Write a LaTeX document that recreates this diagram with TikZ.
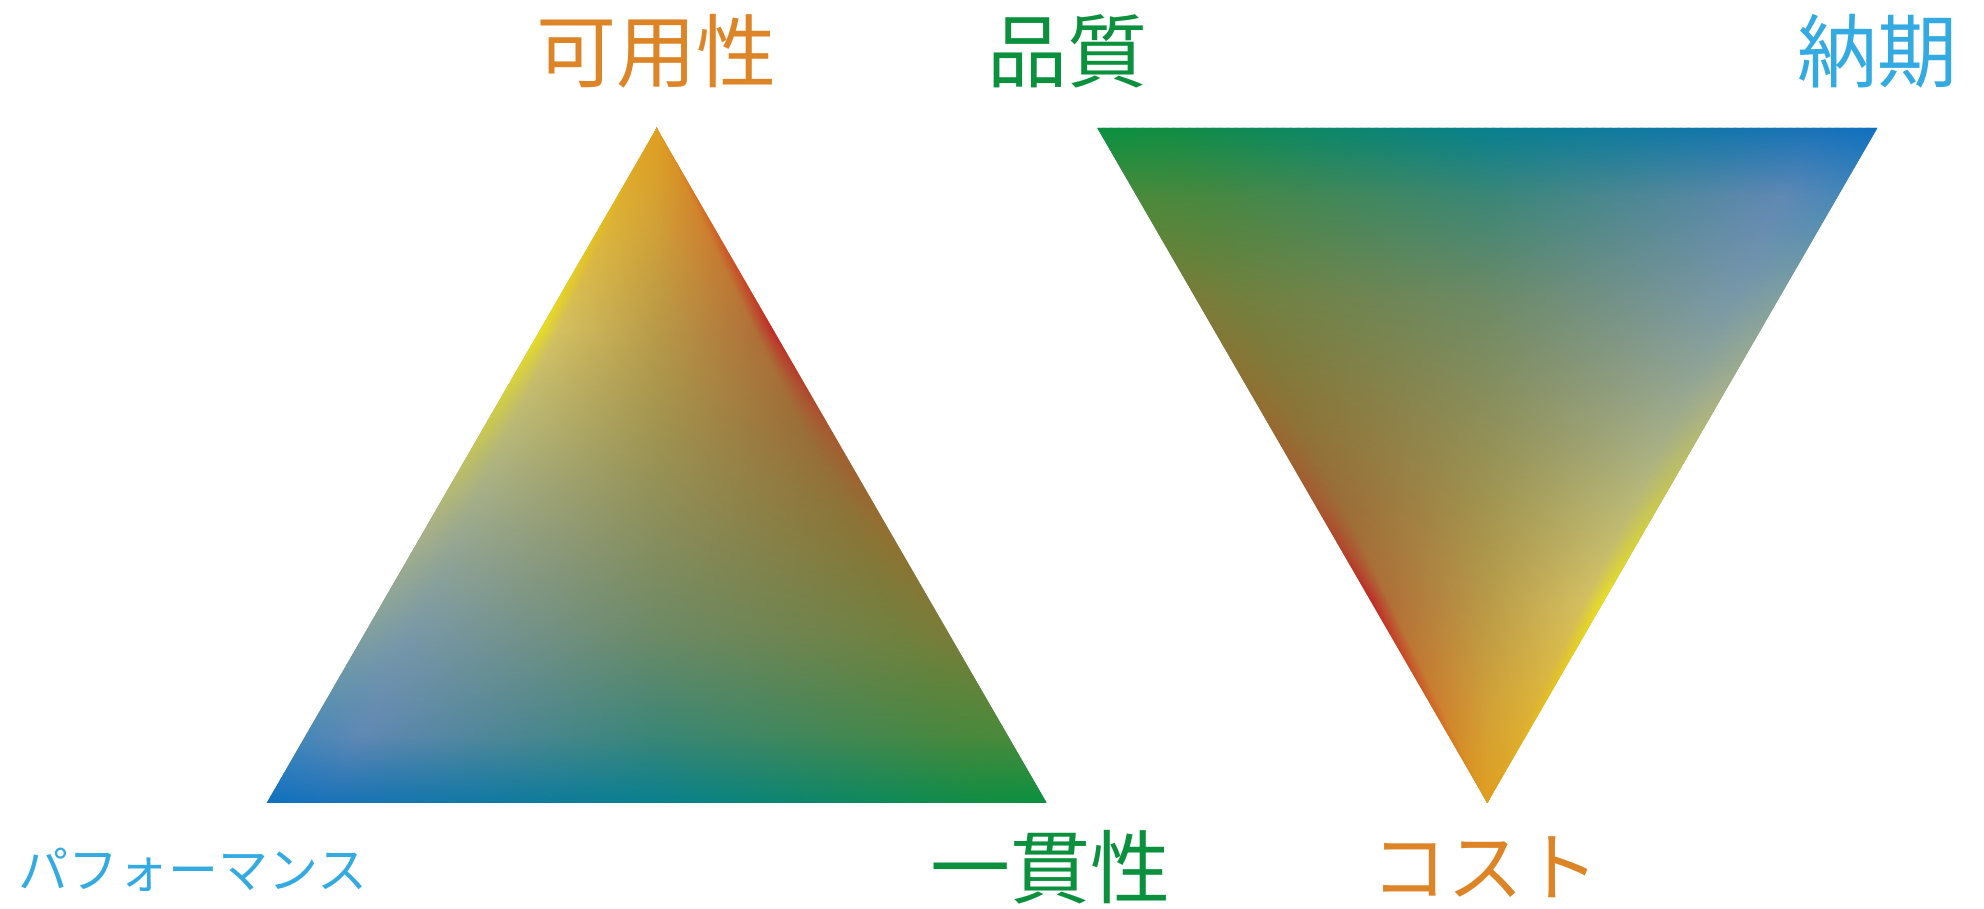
\documentclass[tikz,border=0pt]{standalone}
\usepackage{fontspec}
\newfontfamily\jp{Noto Sans CJK JP}
\usetikzlibrary{calc}
% label colours
\definecolor{lblOrange}{HTML}{DD8526}
\definecolor{lblGreen}{HTML}{0B913D}
\definecolor{lblBlue}{HTML}{33AAE1}
% key colours of the mesh: K<column> S<row>, column = position along the base, row = distance from apex
\definecolor{K1S1}{HTML}{E0A020}\definecolor{K1S2}{HTML}{E4C020}\definecolor{K1S3}{HTML}{E8E020}\definecolor{K1S4}{HTML}{C8C850}
\definecolor{K1S5}{HTML}{A8B088}\definecolor{K1S6}{HTML}{80A0A0}\definecolor{K1S7}{HTML}{4888B8}\definecolor{K1S8}{HTML}{1070C0}
\definecolor{K2S1}{HTML}{E0A020}\definecolor{K2S2}{HTML}{DCB438}\definecolor{K2S3}{HTML}{D4C060}\definecolor{K2S4}{HTML}{B8B878}
\definecolor{K2S5}{HTML}{98A890}\definecolor{K2S6}{HTML}{7898A8}\definecolor{K2S7}{HTML}{6088B4}\definecolor{K2S8}{HTML}{1872B8}
\definecolor{K3S1}{HTML}{E0A020}\definecolor{K3S2}{HTML}{D0A038}\definecolor{K3S3}{HTML}{B89A48}\definecolor{K3S4}{HTML}{A09450}
\definecolor{K3S5}{HTML}{888E5C}\definecolor{K3S6}{HTML}{6C8A66}\definecolor{K3S7}{HTML}{3A8676}\definecolor{K3S8}{HTML}{08808E}
\definecolor{K4S1}{HTML}{E0A020}\definecolor{K4S2}{HTML}{CC8030}\definecolor{K4S3}{HTML}{B07038}\definecolor{K4S4}{HTML}{9A6E38}
\definecolor{K4S5}{HTML}{887638}\definecolor{K4S6}{HTML}{72803E}\definecolor{K4S7}{HTML}{48883E}\definecolor{K4S8}{HTML}{108E42}
\definecolor{K5S1}{HTML}{E0A020}\definecolor{K5S2}{HTML}{D06028}\definecolor{K5S3}{HTML}{C02828}\definecolor{K5S4}{HTML}{A85830}
\definecolor{K5S5}{HTML}{927030}\definecolor{K5S6}{HTML}{7A7C38}\definecolor{K5S7}{HTML}{4A8A3A}\definecolor{K5S8}{HTML}{0A9040}

\pgfdeclareverticalshading{fanbase}{100bp}{color(0bp)=(K3S8); color(25bp)=(K3S8); color(30bp)=(K3S7); color(37.5bp)=(K3S6);
  color(45bp)=(K3S5); color(52.5bp)=(K3S4); color(60bp)=(K3S3); color(67.5bp)=(K3S2); color(75bp)=(K3S1); color(100bp)=(K3S1)}

% #1 prefix, #2 apex, #3 base point t=0, #4 base point t=1, #5 shading angle
\newcommand\drawfan[5]{%
  \shade[shading=fanbase, shading angle=#5] (#2) -- (#3) -- (#4) -- cycle;
  \foreach \i in {0,...,99}{%
    \pgfmathsetmacro\tm{(\i+0.5)/100}%
    \pgfmathsetmacro\ta{\i/100}%
    \pgfmathsetmacro\tb{min(1,(\i+1)/100+0.004)}%
    \ifdim\tm pt<0.08pt \def\ka{1}\def\kb{2}\def\lo{0}\def\hi{0.08}\else
    \ifdim\tm pt<0.5pt \def\ka{2}\def\kb{3}\def\lo{0.08}\def\hi{0.5}\else
    \ifdim\tm pt<0.92pt \def\ka{3}\def\kb{4}\def\lo{0.5}\def\hi{0.92}\else
    \def\ka{4}\def\kb{5}\def\lo{0.92}\def\hi{1}\fi\fi\fi
    \pgfmathsetmacro\pp{(\hi-\tm)/(\hi-\lo)*100}%
    \colorlet{cA}{K\ka S1!\pp!K\kb S1}%
    \colorlet{cB}{K\ka S2!\pp!K\kb S2}%
    \colorlet{cC}{K\ka S3!\pp!K\kb S3}%
    \colorlet{cD}{K\ka S4!\pp!K\kb S4}%
    \colorlet{cE}{K\ka S5!\pp!K\kb S5}%
    \colorlet{cF}{K\ka S6!\pp!K\kb S6}%
    \colorlet{cG}{K\ka S7!\pp!K\kb S7}%
    \colorlet{cH}{K\ka S8!\pp!K\kb S8}%
    \pgfdeclareverticalshading{#1\i}{100bp}{color(0bp)=(cH); color(25bp)=(cH); color(30bp)=(cG); color(37.5bp)=(cF);
      color(45bp)=(cE); color(52.5bp)=(cD); color(60bp)=(cC); color(67.5bp)=(cB); color(75bp)=(cA); color(100bp)=(cA)}%
    \shade[shading=#1\i, shading angle=#5] (#2) -- ($(#3)!\ta!(#4)$) -- ($(#3)!\tb!(#4)$) -- cycle;
  }%
}

\tikzset{
  bigjp/.style={inner sep=0pt, anchor=center, font=\jp\fontsize{80pt}{80pt}\selectfont},
  smalljp/.style={inner sep=0pt, anchor=center, font=\jp\fontsize{50pt}{50pt}\selectfont},
}

\begin{document}
\begin{tikzpicture}[x=1pt,y=1pt]
\useasboundingbox (0,0) rectangle (1984,909);
\fill[white] (0,0) rectangle (1984,909);

% left triangle
\coordinate (LA) at (656.7,781);
\coordinate (LB) at (266.7,106);
\coordinate (LC) at (1046.7,106);
\drawfan{fanL}{LA}{LB}{LC}{0}

% right triangle (the left one turned half round)
\coordinate (RA) at (1487.3,106);
\coordinate (RB) at (1877.3,781);
\coordinate (RC) at (1097.3,781);
\drawfan{fanR}{RA}{RB}{RC}{180}

% labels
\node[bigjp, text=lblOrange] (kayou) at (656.7,858) {可用性};
\node[bigjp, text=lblGreen]  (hinshitsu) at (1067,858) {品質};
\node[bigjp, text=lblBlue]   (nouki) at (1877,858) {納期};
\node[smalljp, text=lblBlue] (perf) at (193,39) {パフォーマンス};
\node[bigjp, text=lblGreen]  (ikkan) at (1050,42) {一貫性};
\node[bigjp, text=lblOrange, font=\jp\fontsize{76pt}{76pt}\selectfont] (cost) at (1485,42) {コスト};
\end{tikzpicture}
\end{document}
